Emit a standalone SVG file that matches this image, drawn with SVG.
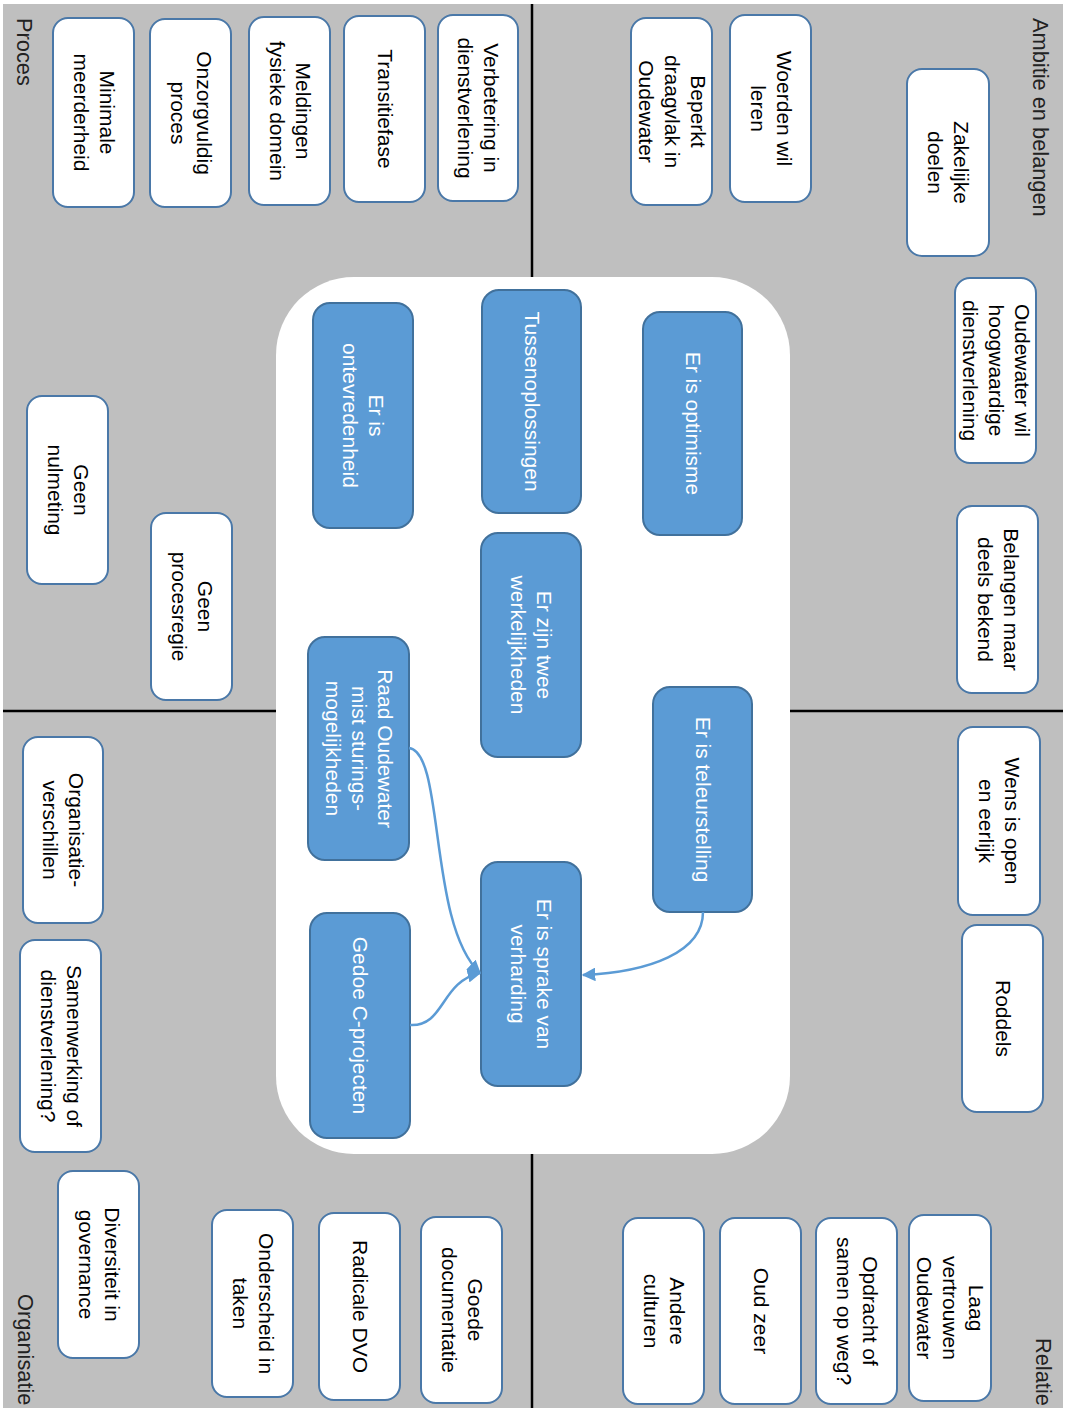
<svg xmlns="http://www.w3.org/2000/svg" width="1066" height="1408" viewBox="0 0 1066 1408">
<style>
.bg{fill:#bfbfbf}
.ax{stroke:#000;stroke-width:2.5;fill:none}
.wn{fill:#fff;stroke:#4a78a8;stroke-width:2}
.bn{fill:#5b9bd5;stroke:#41719c;stroke-width:2}
.wt{font-family:"Liberation Sans",Arial,sans-serif;font-size:21px;fill:#000;text-anchor:middle}
.bt{font-family:"Liberation Sans",Arial,sans-serif;font-size:21px;fill:#fff;text-anchor:middle}
.lb{font-family:"Liberation Sans",Arial,sans-serif;font-size:21.8px;fill:#222}
.cn{fill:none;stroke:#5b9bd5;stroke-width:2.5}
</style>
<defs>
<marker id="arr" viewBox="0 0 10 10" refX="9" refY="5" markerWidth="5.5" markerHeight="5.5" orient="auto" markerUnits="strokeWidth">
<path d="M0,0 L10,5 L0,10 Z" fill="#5b9bd5"/>
</marker>
</defs>
<rect class="bg" x="3" y="4" width="1060" height="1404"/>
<line class="ax" x1="532" y1="4" x2="532" y2="277"/>
<line class="ax" x1="532" y1="1154" x2="532" y2="1408"/>
<line class="ax" x1="3" y1="711" x2="276" y2="711"/>
<line class="ax" x1="790" y1="711" x2="1063" y2="711"/>
<rect id="center" x="276" y="277" width="514" height="877" rx="78" fill="#fff"/>

<text class="lb" transform="translate(1033,18) rotate(90)">Ambitie en belangen</text>
<text class="lb" transform="translate(17,18) rotate(90)">Proces</text>
<text class="lb" transform="translate(18,1294) rotate(90)">Organisatie</text>
<text class="lb" transform="translate(1036,1338) rotate(90)">Relatie</text>

<!-- Proces -->
<g id="p1"><rect class="wn" x="438" y="15" width="80" height="186" rx="15"/><text class="wt" transform="translate(478,108) rotate(90)"><tspan x="0" y="-6">Verbetering in</tspan><tspan x="0" y="20">dienstverlening</tspan></text></g>
<g id="p2"><rect class="wn" x="344" y="16" width="81" height="186" rx="15"/><text class="wt" transform="translate(384.5,109) rotate(90)"><tspan x="0" y="7">Transitiefase</tspan></text></g>
<g id="p3"><rect class="wn" x="249" y="17" width="81" height="188" rx="15"/><text class="wt" transform="translate(289.5,111) rotate(90)"><tspan x="0" y="-6">Meldingen</tspan><tspan x="0" y="20">fysieke domein</tspan></text></g>
<g id="p4"><rect class="wn" x="150" y="19" width="81" height="188" rx="15"/><text class="wt" transform="translate(190.5,113) rotate(90)"><tspan x="0" y="-6">Onzorgvuldig</tspan><tspan x="0" y="20">proces</tspan></text></g>
<g id="p5"><rect class="wn" x="53" y="18" width="81" height="189" rx="15"/><text class="wt" transform="translate(93.5,112.5) rotate(90)"><tspan x="0" y="-6">Minimale</tspan><tspan x="0" y="20">meerderheid</tspan></text></g>
<g id="p6"><rect class="wn" x="27" y="396" width="81" height="188" rx="15"/><text class="wt" transform="translate(67.5,490) rotate(90)"><tspan x="0" y="-6">Geen</tspan><tspan x="0" y="20">nulmeting</tspan></text></g>
<g id="p7"><rect class="wn" x="151" y="513" width="81" height="187" rx="15"/><text class="wt" transform="translate(191.5,606.5) rotate(90)"><tspan x="0" y="-6">Geen</tspan><tspan x="0" y="20">procesregie</tspan></text></g>

<!-- Ambitie en belangen -->
<g id="a1"><rect class="wn" x="730" y="15" width="81" height="187" rx="15"/><text class="wt" transform="translate(770.5,108.5) rotate(90)"><tspan x="0" y="-6">Woerden wil</tspan><tspan x="0" y="20">leren</tspan></text></g>
<g id="a2"><rect class="wn" x="631" y="18" width="81" height="187" rx="15"/><text class="wt" transform="translate(671.5,111.5) rotate(90)"><tspan x="0" y="-19">Beperkt</tspan><tspan x="0" y="7">draagvlak in</tspan><tspan x="0" y="33">Oudewater</tspan></text></g>
<g id="a3"><rect class="wn" x="907" y="69" width="82" height="187" rx="15"/><text class="wt" transform="translate(948,162.5) rotate(90)"><tspan x="0" y="-6">Zakelijke</tspan><tspan x="0" y="20">doelen</tspan></text></g>
<g id="a4"><rect class="wn" x="955" y="278" width="81" height="185" rx="15"/><text class="wt" transform="translate(995.5,370.5) rotate(90)"><tspan x="0" y="-19">Oudewater wil</tspan><tspan x="0" y="7">hoogwaardige</tspan><tspan x="0" y="33">dienstverlening</tspan></text></g>
<g id="a5"><rect class="wn" x="957" y="506" width="81" height="187" rx="15"/><text class="wt" transform="translate(997.5,599.5) rotate(90)"><tspan x="0" y="-6">Belangen maar</tspan><tspan x="0" y="20">deels bekend</tspan></text></g>

<!-- Relatie -->
<g id="r1"><rect class="wn" x="958" y="727" width="82" height="188" rx="15"/><text class="wt" transform="translate(999,821) rotate(90)"><tspan x="0" y="-6">Wens is open</tspan><tspan x="0" y="20">en eerlijk</tspan></text></g>
<g id="r2"><rect class="wn" x="962" y="925" width="81" height="187" rx="15"/><text class="wt" transform="translate(1002.5,1018.5) rotate(90)"><tspan x="0" y="7">Roddels</tspan></text></g>
<g id="r3"><rect class="wn" x="909" y="1215" width="82" height="186" rx="15"/><text class="wt" transform="translate(950,1308) rotate(90)"><tspan x="0" y="-19">Laag</tspan><tspan x="0" y="7">vertrouwen</tspan><tspan x="0" y="33">Oudewater</tspan></text></g>
<g id="r4"><rect class="wn" x="816" y="1218" width="81" height="186" rx="15"/><text class="wt" transform="translate(856.5,1311) rotate(90)"><tspan x="0" y="-6">Opdracht of</tspan><tspan x="0" y="20">samen op weg?</tspan></text></g>
<g id="r5"><rect class="wn" x="720" y="1218" width="81" height="186" rx="15"/><text class="wt" transform="translate(760.5,1311) rotate(90)"><tspan x="0" y="7">Oud zeer</tspan></text></g>
<g id="r6"><rect class="wn" x="623" y="1218" width="81" height="186" rx="15"/><text class="wt" transform="translate(663.5,1311) rotate(90)"><tspan x="0" y="-6">Andere</tspan><tspan x="0" y="20">culturen</tspan></text></g>

<!-- Organisatie -->
<g id="o1"><rect class="wn" x="23" y="737" width="80" height="186" rx="15"/><text class="wt" transform="translate(63,830) rotate(90)"><tspan x="0" y="-6">Organisatie-</tspan><tspan x="0" y="20">verschillen</tspan></text></g>
<g id="o2"><rect class="wn" x="20" y="940" width="81" height="212" rx="15"/><text class="wt" transform="translate(60.5,1046) rotate(90)"><tspan x="0" y="-6">Samenwerking of</tspan><tspan x="0" y="20">dienstverlening?</tspan></text></g>
<g id="o3"><rect class="wn" x="58" y="1171" width="81" height="187" rx="15"/><text class="wt" transform="translate(98.5,1264.5) rotate(90)"><tspan x="0" y="-6">Diversiteit in</tspan><tspan x="0" y="20">governance</tspan></text></g>
<g id="o4"><rect class="wn" x="212" y="1210" width="81" height="187" rx="15"/><text class="wt" transform="translate(252.5,1303.5) rotate(90)"><tspan x="0" y="-6">Onderscheid in</tspan><tspan x="0" y="20">taken</tspan></text></g>
<g id="o5"><rect class="wn" x="319" y="1213" width="81" height="187" rx="15"/><text class="wt" transform="translate(359.5,1306.5) rotate(90)"><tspan x="0" y="7">Radicale DVO</tspan></text></g>
<g id="o6"><rect class="wn" x="421" y="1217" width="81" height="186" rx="15"/><text class="wt" transform="translate(461.5,1310) rotate(90)"><tspan x="0" y="-6">Goede</tspan><tspan x="0" y="20">documentatie</tspan></text></g>

<!-- Blue center nodes -->
<g id="b1"><rect class="bn" x="643" y="312" width="99" height="223" rx="17"/><text class="bt" transform="translate(692.5,423.5) rotate(90)"><tspan x="0" y="7">Er is optimisme</tspan></text></g>
<g id="b2"><rect class="bn" x="482" y="290" width="99" height="223" rx="17"/><text class="bt" transform="translate(531.5,401.5) rotate(90)"><tspan x="0" y="7">Tussenoplossingen</tspan></text></g>
<g id="b3"><rect class="bn" x="313" y="303" width="100" height="225" rx="17"/><text class="bt" transform="translate(363,415.5) rotate(90)"><tspan x="0" y="-6">Er is</tspan><tspan x="0" y="20">ontevredenheid</tspan></text></g>
<g id="b4"><rect class="bn" x="481" y="533" width="100" height="224" rx="17"/><text class="bt" transform="translate(531,645) rotate(90)"><tspan x="0" y="-6">Er zijn twee</tspan><tspan x="0" y="20">werkelijkheden</tspan></text></g>
<g id="b5"><rect class="bn" x="308" y="637" width="101" height="223" rx="17"/><text class="bt" transform="translate(358.5,748.5) rotate(90)"><tspan x="0" y="-19">Raad Oudewater</tspan><tspan x="0" y="7">mist sturings-</tspan><tspan x="0" y="33">mogelijkheden</tspan></text></g>
<g id="b6"><rect class="bn" x="310" y="913" width="100" height="225" rx="17"/><text class="bt" transform="translate(360,1025.5) rotate(90)"><tspan x="0" y="7">Gedoe C-projecten</tspan></text></g>
<g id="b7"><rect class="bn" x="481" y="862" width="100" height="224" rx="17"/><text class="bt" transform="translate(531,974) rotate(90)"><tspan x="0" y="-6">Er is sprake van</tspan><tspan x="0" y="20">verharding</tspan></text></g>
<g id="b8"><rect class="bn" x="653" y="687" width="99" height="225" rx="17"/><text class="bt" transform="translate(702.5,799.5) rotate(90)"><tspan x="0" y="7">Er is teleurstelling</tspan></text></g>

<g id="connectors">
<path class="cn" d="M703,912 C703,952 650,972 583,975" marker-end="url(#arr)"/>
<path class="cn" d="M409,748 C445,752 428,925 480,973" marker-end="url(#arr)"/>
<path class="cn" d="M410,1025 C445,1027 440,982 480,973" marker-end="url(#arr)"/>
</g>
</svg>
